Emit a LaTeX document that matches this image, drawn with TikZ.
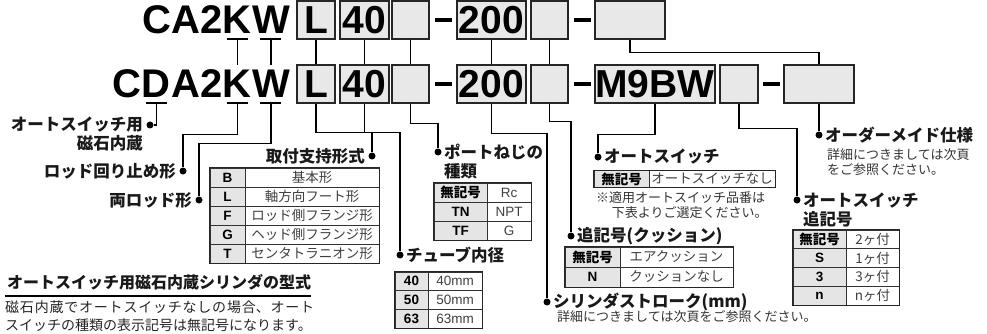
\documentclass[tikz,border=0pt]{standalone}
\usepackage{fontspec}
\setmainfont{Noto Sans CJK JP}
\newfontfamily\lat{Liberation Sans}
\usepackage{tikz}
\usetikzlibrary{positioning}

\begin{document}
\begin{tikzpicture}[x=1pt,y=-1pt,
  codebox/.style={draw=black!85, fill=black!9, line width=1.3pt, minimum height=38, inner sep=0,
    font=\lat\bfseries\fontsize{39}{39}\selectfont},
  codechar/.style={inner xsep=0, inner ysep=5, font=\lat\bfseries\fontsize{40}{40}\selectfont},
  dashbar/.style={fill=black, minimum width=17, minimum height=3.5, inner sep=0},
  wire/.style={line width=1.4pt},
  jdot/.style={circle, fill=black, minimum size=7, inner sep=0},
  lbl/.style={inner sep=0, text=black!90, font=\bfseries\fontsize{16.5}{19}\selectfont},
  note/.style={inner sep=0, text=black!80, font=\fontsize{13}{15}\selectfont},
  codecell/.style={draw=black!80, fill=black!10, line width=0.7pt, inner sep=0,
    font=\bfseries\fontsize{13.5}{13.5}\selectfont},
  textcell/.style={draw=black!80, fill=white, line width=0.7pt, inner sep=0, text=black!75,
    font=\fontsize{13.5}{13.5}\selectfont},
  tabframe/.style={draw=black!85, line width=1.1pt}]
  \useasboundingbox (0,0) rectangle (987,334);

  % model codes
  \node[codechar, anchor=base east] (tW) at (290,34) {W};
  \node[codechar, anchor=base east] (tK) at (tW.base west) {K};
  \node[codechar, anchor=base east] (tCA) at (tK.base west) {CA2};
  \node[codechar, anchor=base east] (bW) at (290,98) {W};
  \node[codechar, anchor=base east] (bK) at (bW.base west) {K};
  \node[codechar, anchor=base east] (bA) at (bK.base west) {A2};
  \node[codechar, anchor=base east] (bD) at (bA.base west) {D};
  \node[codechar, anchor=base east] (bCC) at (bD.base west) {C};
  \foreach \n/\x/\w/\t in {L/316/38/L, 40/364.5/49/40, P/410.5/37/{}, 200/491.5/69/200,
      C/549.5/37/{}, O/630/70/{}}{
    \node[codebox, minimum width=\w] (t\n) at (\x,20) {\t};
  }
  \foreach \n/\x/\w/\t in {L/316/38/L, 40/364.5/49/40, P/410.5/37/{}, 200/491.5/69/200,
      C/549.5/37/{}, M/655/120/M9BW, S/739/38/{}, O/819/70/{}}{
    \node[codebox, minimum width=\w] (b\n) at (\x,84) {\t};
  }
  \foreach \n/\x/\y in {1/443.5/20, 2/582/20, 3/443.5/84, 4/582/84, 5/771/84}{
    \node[dashbar] (dash\n) at (\x,\y) {};
  }

  % links between the two rows
  \foreach \a/\b in {tL/bL, t40/b40, tP/bP, t200/b200, tC/bC, tK/bK, tW/bW}{
    \draw[wire] (\a) -- (\b);
  }
  \foreach \a in {tK, tW, bD, bK, bW}{
    \draw[wire] ([xshift=-10.5pt]\a.south) -- ([xshift=10.5pt]\a.south);
  }
  \draw[wire] (tO.south) -- ++(0,13) -| (bO.north);

  % left labels
  \node[jdot] (dMag) at (150,125) {};
  \node[jdot] (dRot) at (183,171) {};
  \node[jdot] (dDbl) at (199,200) {};
  \draw[wire] (bD.south) |- (dMag);
  \draw[wire] (bK.south) -- ++(0,31) -| (dRot);
  \draw[wire] (bW.south) -- ++(0,40) -| (dDbl);
  \node[lbl, anchor=east, align=right] (lMag) at (143,134.5) {オートスイッチ用\\磁石内蔵};
  \node[lbl, anchor=east] (lRot) at (176,171) {ロッド回り止め形};
  \node[lbl, anchor=east] (lDbl) at (192,200) {両ロッド形};

  % mounting
  \node[jdot] (dMount) at (372,156) {};
  \draw[wire] (bL.south) -- ++(0,29) -| (dMount);
  \node[lbl, anchor=east] (lMount) at (365,156) {取付支持形式};
  \foreach \i/\c/\t in {0/B/基本形, 1/L/軸方向フート形, 2/F/ロッド側フランジ形,
      3/G/ヘッド側フランジ形, 4/T/センタトラニオン形}{
    \node[codecell, minimum width=35, minimum height=19] (mc\i) at (227.5,177.5+19*\i) {\lat\c};
    \node[textcell, minimum width=134, minimum height=19] (mt\i) at (312,177.5+19*\i) {\t};
  }
  \draw[tabframe] (mc0.north west) rectangle (mt4.south east);

  % bore
  \node[jdot] (dBore) at (400,255) {};
  \draw[wire] (b40.south) -- ++(0,29) -| (dBore);
  \node[lbl, anchor=west] (lBore) at (406,255) {チューブ内径};
  \foreach \i/\c in {0/40, 1/50, 2/63}{
    \node[codecell, minimum width=33, minimum height=18.7] (bc\i) at (411.5,281.3+18.7*\i) {\lat\c};
    \node[textcell, minimum width=54, minimum height=18.7] (bt\i) at (455,281.3+18.7*\i) {\lat\c mm};
  }
  \draw[tabframe] (bc0.north west) rectangle (bt2.south east);

  % port thread
  \node[jdot] (dPort) at (438,152) {};
  \draw[wire] (bP.south) -- ++(0,20) -| (dPort);
  \node[lbl, anchor=west, align=left] (lPort) at (444,161.5) {ポートねじの\\種類};
  \foreach \i/\c/\t in {0/無記号/Rc, 1/\lat TN/NPT, 2/\lat TF/G}{
    \node[codecell, minimum width=53, minimum height=19] (pc\i) at (460.5,192.5+19*\i) {\c};
    \node[textcell, minimum width=44, minimum height=19] (pt\i) at (509,192.5+19*\i) {\lat\t};
  }
  \draw[tabframe] (pc0.north west) rectangle (pt2.south east);

  % stroke
  \node[jdot] (dStroke) at (547,302) {};
  \draw[wire] (b200.south) -- ++(0,30) -| (dStroke);
  \node[lbl, anchor=west] (lStroke) at (553,302) {シリンダストローク(mm)};
  \node[note, anchor=west] (nStroke) at (557,317) {詳細につきましては次頁をご参照ください。};

  % cushion
  \node[jdot] (dCush) at (571,236) {};
  \draw[wire] (bC.south) -- ++(0,18) -| (dCush);
  \node[lbl, anchor=west] (lCush) at (577,236) {追記号(クッション)};
  \foreach \i/\c/\t in {0/無記号/エアクッション, 1/\lat N/クッションなし}{
    \node[codecell, minimum width=55, minimum height=20] (cc\i) at (592.5,257+20*\i) {\c};
    \node[textcell, minimum width=113, minimum height=20] (ct\i) at (676.5,257+20*\i) {\t};
  }
  \draw[tabframe] (cc0.north west) rectangle (ct1.south east);

  % auto switch
  \node[jdot] (dSw) at (598,157) {};
  \draw[wire] (bM.south) -- ++(0,31) -| (dSw);
  \node[lbl, anchor=west] (lSw) at (604,157) {オートスイッチ};
  \node[codecell, minimum width=55, minimum height=17] (sc0) at (621.5,179) {無記号};
  \node[textcell, minimum width=126, minimum height=17] (st0) at (712,179) {オートスイッチなし};
  \draw[tabframe] (sc0.north west) rectangle (st0.south east);
  \node[note, anchor=north west, align=left] (nSw) at (596,191.5)
    {※適用オートスイッチ品番は\\\hspace*{1.2em}下表よりご選定ください。};

  % number of switches
  \node[jdot] (dSwNo) at (797,200) {};
  \draw[wire] (bS.south) -- ++(0,25) -| (dSwNo);
  \node[lbl, anchor=west, align=left] (lSwNo) at (803,209.5) {オートスイッチ\\追記号};
  \foreach \i/\c/\t in {0/無記号/2ヶ付, 1/\lat S/1ヶ付, 2/\lat 3/3ヶ付, 3/\lat n/nヶ付}{
    \node[codecell, minimum width=53, minimum height=18.75] (nc\i) at (819.5,239.4+18.75*\i) {\c};
    \node[textcell, minimum width=53, minimum height=18.75] (nt\i) at (872.5,239.4+18.75*\i) {\t};
  }
  \draw[tabframe] (nc0.north west) rectangle (nt3.south east);

  % made to order
  \node[jdot] (dMade) at (819,135) {};
  \draw[wire] (bO) -- (dMade);
  \node[lbl, anchor=west] (lMade) at (825,135) {オーダーメイド仕様};
  \node[note, anchor=north west, align=left] (nMade) at (827,148.5)
    {詳細につきましては次頁\\をご参照ください。};

  % model note
  \node[lbl, anchor=west, font=\bfseries\fontsize{16}{19}\selectfont] (hd) at (7,282)
    {オートスイッチ用磁石内蔵シリンダの型式};
  \draw[line width=1.2pt] ([xshift=-2pt,yshift=-6pt]hd.south west) -- ([yshift=-6pt]hd.south east);
  \node[anchor=north west, text width=309pt, align=justify, inner sep=0, text=black!85,
    font={\XeTeXlinebreaklocale "ja"\XeTeXlinebreakskip=0pt plus 3pt\fontsize{14}{18}\selectfont}]
    (para) at (5,300.5)
    {磁石内蔵でオートスイッチなしの場合、オート\linebreak スイッチの種類の表示記号は無記号になります。};
\end{tikzpicture}
\end{document}
